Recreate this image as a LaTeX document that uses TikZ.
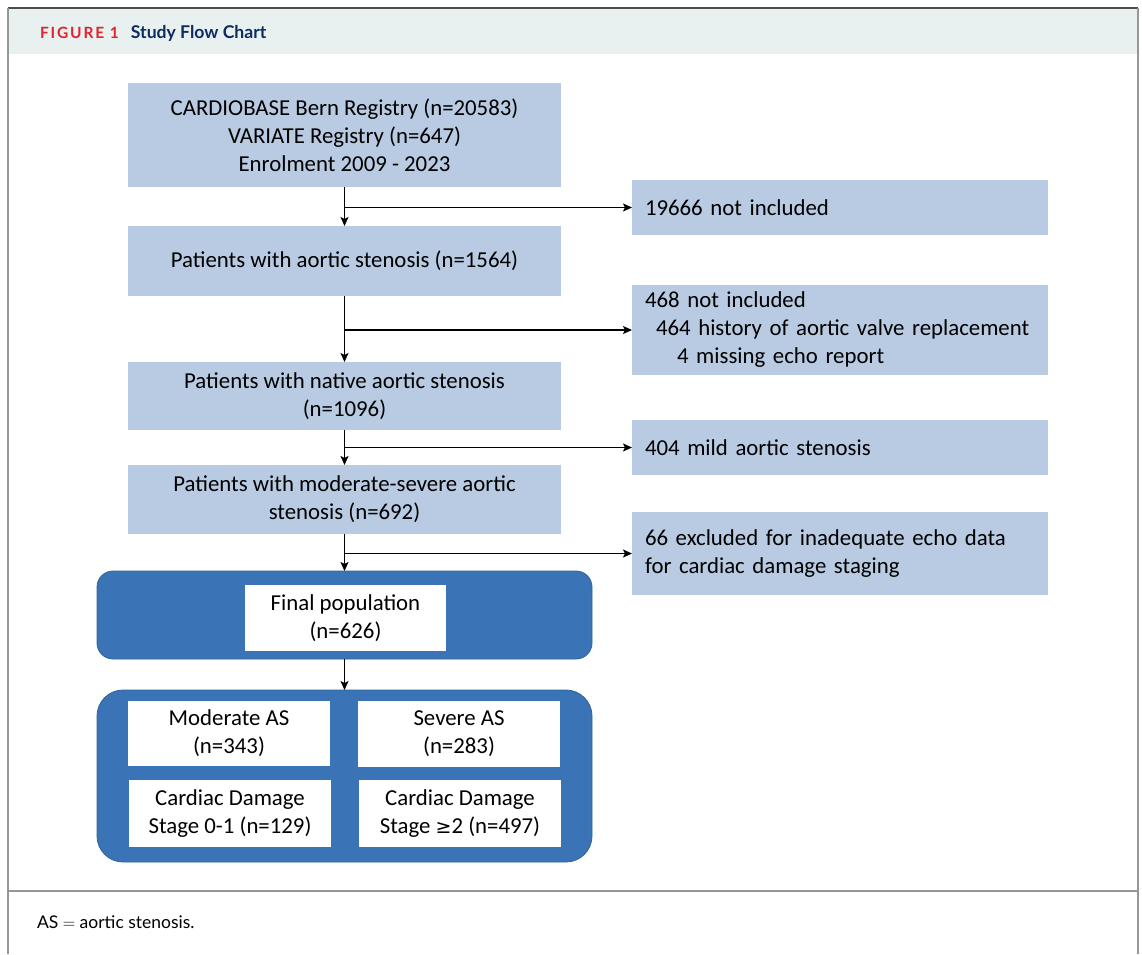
\documentclass[tikz,border=0pt]{standalone}
\usepackage{fontspec}
\setmainfont{Carlito}
\newfontfamily\headfont{Lato}
\usepackage{tikz}
\usetikzlibrary{arrows.meta, positioning, calc}
\usepackage{xcolor}
\definecolor{paleblue}{RGB}{185,203,226}
\definecolor{deepblue}{RGB}{58,116,182}
\definecolor{headband}{RGB}{232,240,240}
\definecolor{figred}{RGB}{226,35,45}
\definecolor{titleblue}{RGB}{12,45,94}
\definecolor{framegray}{RGB}{150,150,150}

\begin{document}
\begin{tikzpicture}[x=1pt, y=-1pt,
  every node/.style={inner sep=0pt, outer sep=0pt, font=\fontsize{22.8}{28}\selectfont},
  mainbox/.style={fill=paleblue, minimum width=433pt, align=center},
  exclbox/.style={fill=paleblue, minimum width=416pt, text width=390pt, align=left},
  whitebox/.style={fill=white, minimum width=202pt, align=center},
  panel/.style={fill=deepblue, draw=deepblue!85!black, line width=0.8pt, minimum width=495pt},
  arr/.style={-{Stealth[length=9pt, width=8pt, inset=2pt]}, line width=1.2pt}]
  \useasboundingbox (0,0) rectangle (1142,954);
  \fill[headband] (9,9) rectangle (1137,54);
  \draw[black!70, line width=1.6pt] (8,8) -- (1138,8);
  \draw[framegray, line width=1.6pt] (8,8) -- (8,954);
  \draw[framegray, line width=1.6pt] (1138,8) -- (1138,954);
  \draw[framegray, line width=1.2pt] (8,891) -- (1138,891);
  \node[anchor=west, font=\headfont\fontsize{15.5}{18}\selectfont\bfseries, text=figred] (fignum) at (40,33) {\addfontfeature{LetterSpace=12}FIGURE 1};
  \node[anchor=west, font=\headfont\fontsize{17.6}{20}\selectfont\bfseries, text=titleblue, right=12pt of fignum] (figtitle) {Study Flow Chart};
  \node[anchor=west, font=\headfont\fontsize{17.5}{20}\selectfont] (caption) at (37,922) {AS $=$ aortic stenosis.};

  \node[mainbox, minimum height=104pt] (registry) at (344.5,135) {CARDIOBASE Bern Registry (n=20583)\\VARIATE Registry (n=647)\\Enrolment 2009 - 2023};
  \node[mainbox, minimum height=70pt] (allas) at (344.5,261) {Patients with aortic stenosis (n=1564)};
  \node[mainbox, minimum height=68pt] (native) at (344.5,396) {Patients with native aortic stenosis\\(n=1096)};
  \node[mainbox, minimum height=69pt] (modsev) at (344.5,499.5) {Patients with moderate-severe aortic\\stenosis (n=692)};

  \node[exclbox, minimum height=55pt] (excla) at (840,207.5) {19666 not included};
  \node[exclbox, minimum height=90pt] (exclb) at (840,330) {468 not included\\\hspace*{11pt}464 history of aortic valve replacement\\\hspace*{32pt}4 missing echo report};
  \node[exclbox, minimum height=55pt] (exclc) at (840,447.5) {404 mild aortic stenosis};
  \node[exclbox, minimum height=83pt] (excld) at (840,553.5) {66 excluded for inadequate echo data\\for cardiac damage staging};

  \node[panel, rounded corners=16pt, minimum height=88pt] (finalpanel) at (344.5,615) {};
  \node[whitebox, minimum width=201pt, minimum height=66pt] (final) at (345.5,618) {Final population\\(n=626)};
  \node[panel, rounded corners=26pt, minimum height=172pt] (grouppanel) at (344.5,776) {};
  \node[whitebox, minimum height=65pt] (moderate) at (229,733.5) {Moderate AS\\(n=343)};
  \node[whitebox, minimum height=66pt] (severe) at (459,734) {Severe AS\\(n=283)};
  \node[whitebox, minimum height=67pt] (stagelow) at (230,813.5) {Cardiac Damage\\Stage 0-1 (n=129)};
  \node[whitebox, minimum height=67pt] (stagehigh) at (460,813.5) {Cardiac Damage\\Stage {\fontspec{DejaVu Sans}\fontsize{19}{28}\selectfont ≥}2 (n=497)};

  \draw[arr] (registry.south) -- (allas.north);
  \draw[arr] (registry.south |- excla.west) -- (excla.west);
  \draw[arr] (allas.south) -- (native.north);
  \draw[arr] (allas.south |- exclb.west) -- (exclb.west);
  \draw[arr] (native.south) -- (modsev.north);
  \draw[arr] (native.south |- exclc.west) -- (exclc.west);
  \draw[arr] (modsev.south) -- (finalpanel.north);
  \draw[arr] (modsev.south |- excld.west) -- (excld.west);
  \draw[arr] (finalpanel.south) -- (grouppanel.north);
\end{tikzpicture}
\end{document}
